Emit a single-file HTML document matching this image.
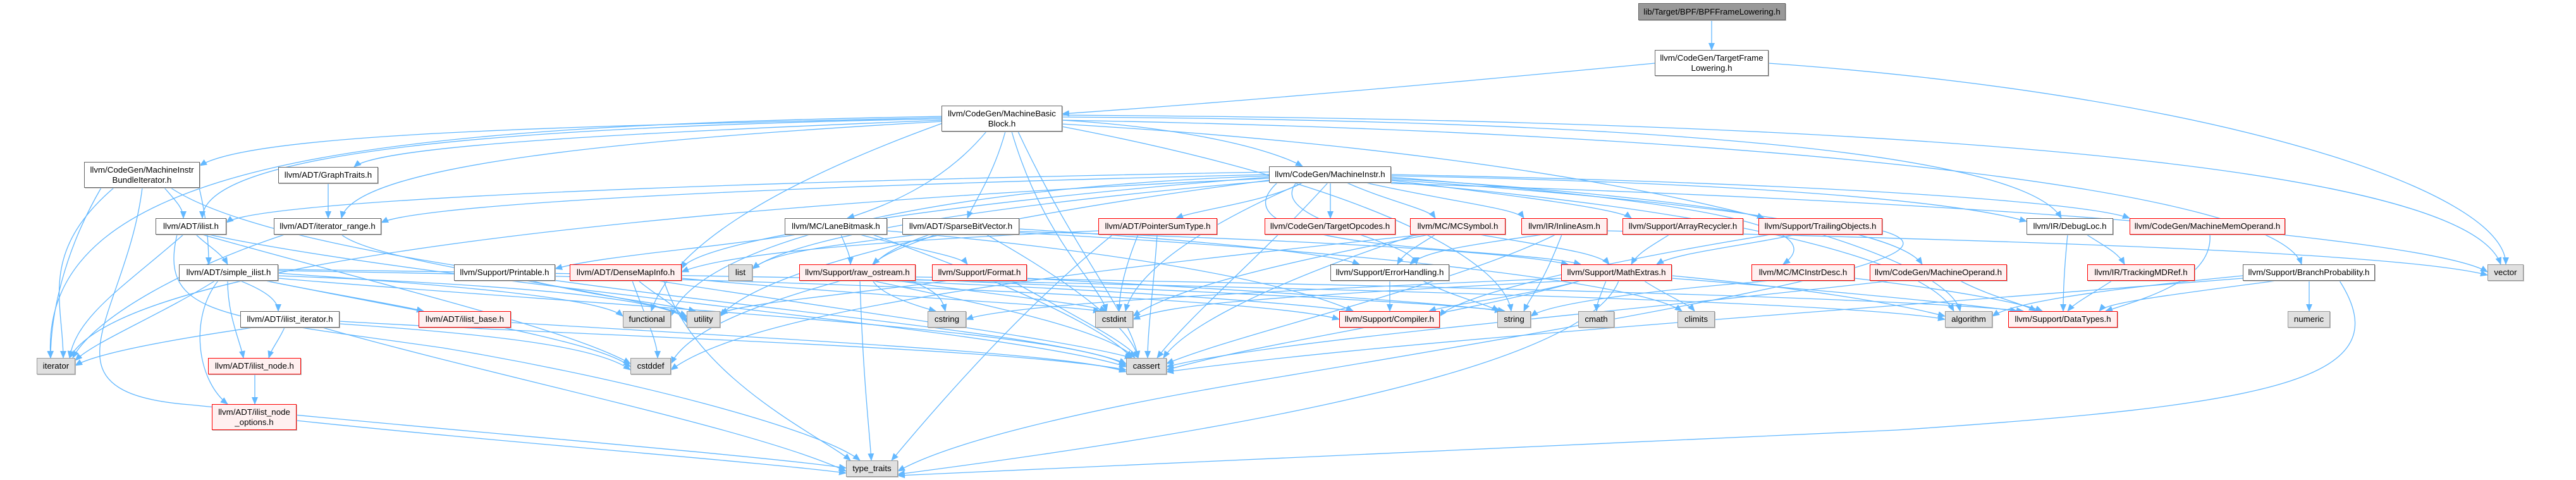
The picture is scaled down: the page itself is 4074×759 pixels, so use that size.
<!DOCTYPE html>
<html><head><meta charset="utf-8">
<style>
html,body{margin:0;padding:0;background:#fff;}
body{width:4074px;height:759px;position:relative;overflow:hidden;font-family:"Liberation Sans",Arial,sans-serif;}
svg{position:absolute;left:0;top:0;}
.n{position:absolute;box-sizing:border-box;border:1.5px solid #666;background:#fff;font-size:13.3px;line-height:16px;color:#000;text-align:center;display:flex;align-items:center;justify-content:center;white-space:nowrap;box-shadow:1px 1px 0 #bbb;}
.g{background:#e0e0e0;border-color:#999;}
.r{background:#fff0f0;border-color:#ff0000;}
.t{background:#999;border-color:#666;}
</style></head><body>
<svg width="4074" height="759" viewBox="0 0 4074 759">
<defs><marker id="a" markerWidth="12" markerHeight="10" refX="11" refY="5" orient="auto" markerUnits="userSpaceOnUse"><path d="M0,0L12,5L0,10z" fill="#63b8ff"/></marker></defs>
<g fill="none" stroke="#63b8ff" stroke-width="1.3" marker-end="url(#a)">
<path d="M2707,31C2707,55 2707,55 2707,79"/>
<path d="M2617,100C2200,140 1900,165 1680,180"/>
<path d="M2797,100C3500,150 3963,300 3963,418"/>
<!-- MBB -->
<path d="M1490,186C900,200 400,210 316,262"/>
<path d="M1490,190C1000,210 600,230 560,264"/>
<path d="M1490,188C800,200 320,240 320,345"/>
<path d="M1490,192C1000,220 560,260 540,345"/>
<path d="M1679,190C1850,200 2000,230 2060,263"/>
<path d="M1560,208C1500,280 1420,320 1340,345"/>
<path d="M1590,208C1570,280 1540,320 1530,345"/>
<path d="M1679,185C2600,190 3200,240 3260,345"/>
<path d="M1679,190C2800,210 3600,300 3640,418"/>
<path d="M1610,208C1700,400 1790,500 1800,566"/>
<path d="M1600,208C1650,380 1740,450 1750,492"/>
<path d="M1490,184C600,200 60,250 80,566"/>
<path d="M1490,195C1200,300 1060,400 1030,492"/>
<path d="M1679,182C3000,190 3900,260 3955,418"/>
<path d="M1679,200C2200,300 2380,420 2390,492"/>
<path d="M1679,196C2600,250 3080,400 3100,492"/>
<!-- MI -->
<path d="M2007,272C1000,290 400,320 358,352"/>
<path d="M2007,276C1000,300 650,330 603,352"/>
<path d="M2007,280C1500,320 1100,380 1078,425"/>
<path d="M2060,289C2000,320 1900,330 1860,345"/>
<path d="M2104,289C2104,315 2104,320 2104,345"/>
<path d="M2130,289C2200,320 2260,330 2270,345"/>
<path d="M2160,289C2300,320 2400,330 2410,345"/>
<path d="M2200,285C2400,310 2560,330 2580,345"/>
<path d="M2200,282C2500,300 2750,330 2790,345"/>
<path d="M2200,278C2800,290 3100,320 3205,350"/>
<path d="M2200,276C2900,290 3300,320 3368,345"/>
<path d="M2200,280C2700,320 2900,360 2820,418"/>
<path d="M2200,284C2700,320 3000,360 3040,418"/>
<path d="M2050,289C2000,350 2240,380 2240,418"/>
<path d="M2020,289C1900,400 2400,390 2500,418"/>
<path d="M2100,289C2000,400 1880,500 1830,566"/>
<path d="M2060,289C1850,380 1790,450 1780,492"/>
<path d="M2007,285C1500,350 1200,430 1139,500"/>
<path d="M2200,288C2800,340 3050,420 3090,492"/>
<path d="M2200,290C3200,320 3850,380 3934,430"/>
<path d="M2007,282C1200,320 200,400 110,566"/>
<path d="M2007,278C1400,300 1100,400 1061,500"/>
<path d="M2007,286C1500,330 1250,380 1190,425"/>
<!-- Bundle -->
<path d="M260,297C280,320 290,330 290,345"/>
<path d="M315,297C330,360 330,400 330,418"/>
<path d="M160,297C100,400 80,500 80,566"/>
<path d="M180,297C60,400 100,480 100,566"/>
<path d="M225,297C200,500 50,620 300,640C700,680 1200,720 1338,740"/>
<path d="M270,297C500,450 1600,500 1781,575"/>
<!-- GT -->
<path d="M519,289C519,320 519,320 519,345"/>
<!-- ilist -->
<path d="M310,371C330,390 350,400 360,418"/>
<path d="M290,371C200,450 120,500 110,566"/>
<path d="M330,371C700,450 1600,520 1781,580"/>
<path d="M320,371C600,450 900,520 997,575"/>
<path d="M280,371C250,500 350,500 700,550C1000,600 1300,680 1360,728"/>
<!-- IR -->
<path d="M450,371C300,420 150,500 115,566"/>
<path d="M540,371C600,420 1000,460 1086,500"/>
<!-- SIL -->
<path d="M380,444C420,460 440,475 440,492"/>
<path d="M360,444C360,500 380,540 385,566"/>
<path d="M345,444C300,500 310,600 360,639"/>
<path d="M420,444C550,470 620,480 670,492"/>
<path d="M340,444C250,500 150,540 119,570"/>
<path d="M440,432C700,450 950,470 985,500"/>
<path d="M440,436C800,450 1050,470 1086,505"/>
<path d="M440,440C900,480 1700,520 1781,578"/>
<path d="M420,444C700,500 950,540 997,580"/>
<path d="M440,428C1200,440 2000,470 2118,505"/>
<path d="M440,426C1500,440 2900,470 3076,505"/>
<!-- II -->
<path d="M450,518C440,540 430,550 425,566"/>
<path d="M400,518C250,540 150,560 119,578"/>
<path d="M537,508C900,530 1600,550 1781,585"/>
<path d="M537,512C800,530 950,550 997,585"/>
<path d="M510,518C800,600 1200,680 1338,745"/>
<!-- IN, INO -->
<path d="M403,592C403,615 403,620 403,639"/>
<path d="M469,665C800,700 1200,730 1338,748"/>
<path d="M808,510C1300,540 1700,560 1781,588"/>
<!-- PR, DMI -->
<path d="M840,444C950,470 1050,480 1100,492"/>
<path d="M1010,444C1040,470 1070,480 1086,510"/>
<path d="M1040,444C1400,500 1700,540 1790,566"/>
<path d="M1000,444C1020,500 1040,540 1040,566"/>
<path d="M1078,440C1400,470 1650,480 1740,492"/>
<path d="M1050,444C1100,600 1300,690 1345,728"/>
<!-- LB -->
<path d="M1330,371C1340,395 1345,405 1345,418"/>
<path d="M1360,371C1450,395 1520,405 1530,418"/>
<path d="M1260,371C1100,395 950,405 878,425"/>
<path d="M1403,365C1800,400 2050,450 2140,492"/>
<path d="M1380,371C1600,450 1750,520 1790,566"/>
<!-- SBV -->
<path d="M1480,371C1430,390 1400,400 1380,418"/>
<path d="M1612,362C1900,380 2100,400 2150,418"/>
<path d="M1612,366C2100,380 2400,400 2480,418"/>
<path d="M1450,371C1300,390 1220,400 1190,425"/>
<path d="M1560,371C1700,450 1790,520 1800,566"/>
<path d="M1612,368C2200,400 2600,450 2660,492"/>
<path d="M1470,371C1300,430 1400,470 1480,492"/>
<!-- PST -->
<path d="M1830,371C1825,450 1815,520 1815,566"/>
<path d="M1800,371C1780,420 1770,460 1770,492"/>
<path d="M1737,365C1400,380 1150,400 1078,430"/>
<path d="M1760,371C1600,500 1450,680 1410,728"/>
<!-- RO -->
<path d="M1400,444C1800,460 2050,480 2140,492"/>
<path d="M1448,438C2200,450 3000,470 3200,492"/>
<path d="M1380,444C1550,480 1750,520 1795,566"/>
<path d="M1330,444C1200,480 1090,520 1061,575"/>
<path d="M1420,444C1600,470 1720,480 1750,492"/>
<path d="M1448,442C1900,460 2300,480 2380,492"/>
<path d="M1360,444C1365,600 1375,680 1378,728"/>
<path d="M1440,444C1480,460 1490,470 1495,492"/>
<!-- FMT -->
<path d="M1600,444C1700,500 1780,540 1800,566"/>
<path d="M1624,440C2000,460 2300,480 2375,492"/>
<path d="M1500,444C1300,470 1180,480 1139,495"/>
<!-- MCS -->
<path d="M2270,371C2240,390 2220,400 2210,418"/>
<path d="M2340,371C2450,390 2530,400 2545,418"/>
<path d="M2240,371C2000,450 1870,520 1840,566"/>
<path d="M2250,371C1800,420 1200,480 1061,585"/>
<path d="M2260,371C2000,420 1850,460 1792,500"/>
<!-- IA -->
<path d="M2440,371C2300,390 2250,400 2230,418"/>
<path d="M2470,371C2440,450 2420,470 2410,492"/>
<path d="M2460,371C2300,450 1950,530 1845,575"/>
<path d="M2542,365C3200,380 3800,400 3934,435"/>
<!-- AR, TrO -->
<path d="M2640,371C2610,390 2590,400 2580,418"/>
<path d="M2840,371C2750,390 2650,400 2620,418"/>
<path d="M2800,371C2500,420 2300,470 2277,500"/>
<path d="M2977,365C3100,400 2900,450 2000,600C1700,650 1500,700 1420,745"/>
<!-- EH -->
<path d="M2198,444C2198,470 2198,475 2198,492"/>
<path d="M2250,444C2300,470 2350,480 2370,492"/>
<!-- ME -->
<path d="M2500,444C2400,470 2300,480 2260,492"/>
<path d="M2644,440C2900,460 3100,480 3190,492"/>
<path d="M2644,436C2850,455 3000,480 3076,500"/>
<path d="M2500,444C2300,500 2000,540 1845,585"/>
<path d="M2600,444C2640,470 2670,480 2680,492"/>
<path d="M2540,444C2530,470 2525,480 2525,492"/>
<path d="M2480,444C2000,470 1850,480 1792,505"/>
<path d="M2469,440C2000,460 1600,480 1528,505"/>
<path d="M2560,444C2500,600 1800,700 1420,750"/>
<!-- MCID, MO -->
<path d="M2933,440C3100,460 3200,480 3230,492"/>
<path d="M2800,444C2600,460 2450,480 2421,500"/>
<path d="M3100,444C3150,470 3200,480 3220,492"/>
<path d="M2990,444C2500,500 2000,540 1845,580"/>
<!-- DL, TMD, MMO -->
<path d="M3300,371C3330,390 3350,400 3360,418"/>
<path d="M3270,371C3265,420 3263,460 3263,492"/>
<path d="M3340,444C3300,470 3280,480 3270,492"/>
<path d="M3495,371C3500,440 3400,470 3330,492"/>
<!-- BP -->
<path d="M3600,444C3400,470 3330,480 3320,492"/>
<path d="M3547,436C3300,460 3180,480 3151,500"/>
<path d="M3652,444C3652,470 3652,475 3652,492"/>
<path d="M3547,440C2800,500 2200,540 1845,588"/>
<path d="M3700,444C3800,600 3600,640 3000,680C2200,720 1600,740 1420,752"/>
</g>
</svg>

<div class="n t" style="left:2591px;top:5px;width:233px;height:27px;">lib/Target/BPF/BPFFrameLowering.h</div>
<div class="n" style="left:2617px;top:79px;width:180px;height:41px;">llvm/CodeGen/TargetFrame<br>Lowering.h</div>
<div class="n" style="left:1489px;top:167px;width:191px;height:41px;">llvm/CodeGen/MachineBasic<br>Block.h</div>
<div class="n" style="left:133px;top:256px;width:183px;height:41px;">llvm/CodeGen/MachineInstr<br>BundleIterator.h</div>
<div class="n" style="left:440px;top:264px;width:158px;height:26px;">llvm/ADT/GraphTraits.h</div>
<div class="n" style="left:2007px;top:263px;width:193px;height:26px;">llvm/CodeGen/MachineInstr.h</div>

<div class="n" style="left:246px;top:345px;width:112px;height:26px;">llvm/ADT/ilist.h</div>
<div class="n" style="left:433px;top:345px;width:170px;height:26px;">llvm/ADT/iterator_range.h</div>
<div class="n" style="left:1241px;top:345px;width:162px;height:26px;">llvm/MC/LaneBitmask.h</div>
<div class="n" style="left:1427px;top:345px;width:185px;height:26px;">llvm/ADT/SparseBitVector.h</div>
<div class="n r" style="left:1737px;top:345px;width:188px;height:26px;">llvm/ADT/PointerSumType.h</div>
<div class="n r" style="left:2000px;top:345px;width:207px;height:26px;">llvm/CodeGen/TargetOpcodes.h</div>
<div class="n r" style="left:2230px;top:345px;width:151px;height:26px;">llvm/MC/MCSymbol.h</div>
<div class="n r" style="left:2406px;top:345px;width:136px;height:26px;">llvm/IR/InlineAsm.h</div>
<div class="n r" style="left:2566px;top:345px;width:191px;height:26px;">llvm/Support/ArrayRecycler.h</div>
<div class="n r" style="left:2781px;top:345px;width:196px;height:26px;">llvm/Support/TrailingObjects.h</div>
<div class="n" style="left:3205px;top:345px;width:137px;height:26px;">llvm/IR/DebugLoc.h</div>
<div class="n r" style="left:3368px;top:345px;width:246px;height:26px;">llvm/CodeGen/MachineMemOperand.h</div>

<div class="n" style="left:283px;top:418px;width:157px;height:26px;">llvm/ADT/simple_ilist.h</div>
<div class="n" style="left:718px;top:418px;width:160px;height:26px;">llvm/Support/Printable.h</div>
<div class="n r" style="left:901px;top:418px;width:177px;height:26px;">llvm/ADT/DenseMapInfo.h</div>
<div class="n g" style="left:1152px;top:418px;width:38px;height:26px;">list</div>
<div class="n r" style="left:1264px;top:418px;width:184px;height:26px;">llvm/Support/raw_ostream.h</div>
<div class="n r" style="left:1474px;top:418px;width:150px;height:26px;">llvm/Support/Format.h</div>
<div class="n" style="left:2104px;top:418px;width:188px;height:26px;">llvm/Support/ErrorHandling.h</div>
<div class="n r" style="left:2469px;top:418px;width:175px;height:26px;">llvm/Support/MathExtras.h</div>
<div class="n r" style="left:2770px;top:418px;width:163px;height:26px;">llvm/MC/MCInstrDesc.h</div>
<div class="n r" style="left:2957px;top:418px;width:217px;height:26px;">llvm/CodeGen/MachineOperand.h</div>
<div class="n r" style="left:3301px;top:418px;width:170px;height:26px;">llvm/IR/TrackingMDRef.h</div>
<div class="n" style="left:3547px;top:418px;width:209px;height:26px;">llvm/Support/BranchProbability.h</div>
<div class="n g" style="left:3934px;top:418px;width:57px;height:26px;">vector</div>

<div class="n" style="left:380px;top:492px;width:157px;height:26px;">llvm/ADT/ilist_iterator.h</div>
<div class="n r" style="left:662px;top:492px;width:146px;height:26px;">llvm/ADT/ilist_base.h</div>
<div class="n g" style="left:985px;top:492px;width:76px;height:26px;">functional</div>
<div class="n g" style="left:1086px;top:492px;width:53px;height:26px;">utility</div>
<div class="n g" style="left:1467px;top:492px;width:61px;height:26px;">cstring</div>
<div class="n g" style="left:1732px;top:492px;width:60px;height:26px;">cstdint</div>
<div class="n r" style="left:2118px;top:492px;width:159px;height:26px;">llvm/Support/Compiler.h</div>
<div class="n g" style="left:2368px;top:492px;width:53px;height:26px;">string</div>
<div class="n g" style="left:2496px;top:492px;width:57px;height:26px;">cmath</div>
<div class="n g" style="left:2653px;top:492px;width:59px;height:26px;">climits</div>
<div class="n g" style="left:3076px;top:492px;width:75px;height:26px;">algorithm</div>
<div class="n r" style="left:3176px;top:492px;width:173px;height:26px;">llvm/Support/DataTypes.h</div>
<div class="n g" style="left:3618px;top:492px;width:67px;height:26px;">numeric</div>

<div class="n g" style="left:58px;top:566px;width:61px;height:26px;">iterator</div>
<div class="n r" style="left:329px;top:566px;width:147px;height:26px;">llvm/ADT/ilist_node.h</div>
<div class="n g" style="left:997px;top:566px;width:64px;height:26px;">cstddef</div>
<div class="n g" style="left:1781px;top:566px;width:64px;height:26px;">cassert</div>

<div class="n r" style="left:335px;top:639px;width:134px;height:41px;">llvm/ADT/ilist_node<br>_options.h</div>
<div class="n g" style="left:1338px;top:728px;width:82px;height:26px;">type_traits</div>
</body></html>
